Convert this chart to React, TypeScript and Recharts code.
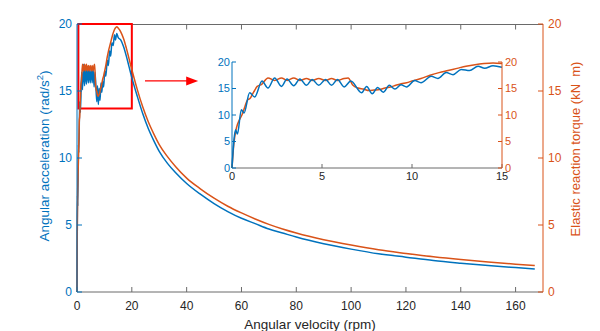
import React from 'react';
import { LineChart, Line, XAxis, YAxis, ReferenceArea, ReferenceLine } from 'recharts';

const BLUE = '#0072BD';
const ORANGE = '#D95319';
const AXIS_GREY = '#6a6a6a';
const TEXT_DARK = '#262626';

// angular acceleration (left axis), rpm vs rad/s^2
const accelRpm = [
  0, 0.11, 0.2, 0.3, 0.52, 0.67, 0.98, 1.26, 1.67, 2.0,
  2.37, 2.75, 3.06, 3.43, 3.77, 4.14, 4.45, 4.82, 5.2, 5.53,
  5.86, 6.23, 6.6, 7.2, 7.48, 7.79, 8.09, 8.4, 8.74, 9.05,
  9.39, 9.7, 10.15, 10.5, 11.07, 11.44, 11.9, 12.28, 12.74, 13.2,
  13.67, 14.04, 14.5, 15, 16, 17, 18, 19, 20, 22,
  24, 26, 28, 30, 33, 36, 40, 45, 50, 55,
  60, 65, 70, 75, 80, 90, 100, 110, 120, 130,
  140, 150, 160, 167,
];
const accelVal = [
  0, 5.3, 7.2, 6.4, 11.0, 10.4, 14.2, 13.4, 16.4, 15.1,
  17.0, 15.4, 16.8, 15.5, 16.8, 15.6, 16.7, 15.6, 16.7, 15.6,
  16.7, 15.3, 16.4, 14.2, 15.4, 14.0, 15.2, 14.3, 15.6, 14.9,
  15.7, 15.3, 16.5, 16.1, 17.3, 16.9, 18.0, 17.6, 18.6, 18.4,
  19.2, 18.8, 19.3, 19.0, 18.8, 18.3, 17.6, 16.8, 16.0, 14.6,
  13.3, 12.2, 11.3, 10.5, 9.6, 8.9, 8.1, 7.3, 6.6, 6.0,
  5.5, 5.1, 4.7, 4.4, 4.1, 3.6, 3.2, 2.85, 2.6, 2.35,
  2.15, 1.97, 1.82, 1.72,
];

// elastic reaction torque (right axis), rpm vs kN m
const torqueRpm = [
  0, 0.1, 0.25, 0.4, 0.55, 0.7, 0.85, 1.0, 1.2, 1.4,
  1.65, 2.0, 2.37, 2.75, 3.06, 3.43, 3.77, 4.14, 4.45, 4.82,
  5.2, 5.53, 5.86, 6.23, 6.45, 6.72, 7.0, 7.3, 7.6, 7.9,
  8.2, 8.5, 8.8, 9.1, 9.4, 9.7, 10, 10.5, 11, 11.5,
  12, 12.5, 13, 13.5, 14, 14.5, 15, 16, 17, 18,
  19, 20, 22, 24, 26, 28, 30, 33, 36, 40,
  45, 50, 55, 60, 65, 70, 75, 80, 90, 100,
  110, 120, 130, 140, 150, 160, 167,
];
const torqueVal = [
  0, 4.5, 7.6, 9.0, 10.0, 11.4, 12.8, 13.1, 14.3, 15.4,
  15.8, 17.0, 16.5, 17.0, 16.5, 17.0, 16.5, 16.9, 16.5, 16.9,
  16.5, 16.9, 16.5, 16.9, 17.0, 15.6, 15.1, 14.9, 14.6, 14.7,
  14.8, 15.1, 15.3, 15.6, 15.9, 16.1, 16.4, 16.9, 17.5, 18.0,
  18.4, 18.8, 19.2, 19.5, 19.7, 19.8, 19.7, 19.4, 18.9, 18.2,
  17.4, 16.6, 15.1, 13.8, 12.7, 11.8, 11.0, 10.1, 9.35, 8.5,
  7.7, 7.0, 6.4, 5.9, 5.45, 5.05, 4.7, 4.4, 3.9, 3.5,
  3.15, 2.88, 2.63, 2.42, 2.24, 2.08, 1.98,
];

const rpmTicks = [0, 20, 40, 60, 80, 100, 120, 140, 160];
const rpmMax = 170;
const yTicks = [0, 5, 10, 15, 20];
const insetRpmTicks = [0, 5, 10, 15];

const accelData = accelRpm.map((rpm, i) => ({ rpm, value: accelVal[i] }));
const torqueData = torqueRpm.map((rpm, i) => ({ rpm, value: torqueVal[i] }));
const insetAccel = accelData.filter((d) => d.rpm <= 15);
const insetTorque = torqueData.filter((d) => d.rpm <= 15);

// main chart frame
const W = 600;
const H = 331;
const AXIS_W = 50;
const MARGIN = { top: 24, right: 7, bottom: 0, left: 27 };
const plotLeft = MARGIN.left + AXIS_W;
const plotRight = W - MARGIN.right - AXIS_W;

const AccelLabel = (props: any) => {
  const vb = props.viewBox || {};
  const cx = vb.x + 18;
  const cy = vb.y + vb.height / 2 - 2;
  return (
    <text
      x={cx}
      y={cy}
      transform={`rotate(-90, ${cx}, ${cy})`}
      textAnchor="middle"
      dominantBaseline="middle"
      fill={BLUE}
      fontSize={13.5}
    >
      Angular acceleration (rad/s
      <tspan dy={-5} fontSize={9.5}>2</tspan>
      <tspan dy={5}>)</tspan>
    </text>
  );
};

const TorqueLabel = (props: any) => {
  const vb = props.viewBox || {};
  const cx = vb.x + 34;
  const cy = vb.y + vb.height / 2 - 9;
  return (
    <text
      x={cx}
      y={cy}
      transform={`rotate(-90, ${cx}, ${cy})`}
      textAnchor="middle"
      dominantBaseline="middle"
      fill={ORANGE}
      fontSize={13}
    >
      {'Elastic reaction torque (kN\u00a0\u00a0m)'}
    </text>
  );
};

const Arrow = (props: any) => {
  const { x1, y1, x2, y2 } = props;
  return (
    <g>
      <line x1={x1} y1={y1} x2={x2 - 10} y2={y2} stroke="#ff0000" strokeWidth={1.2} />
      <polygon points={`${x2},${y2} ${x2 - 12},${y2 - 4.5} ${x2 - 12},${y2 + 4.5}`} fill="#ff0000" />
    </g>
  );
};

// top edge of the box (matlab "box on"), ticks pointing inward; sits under the chart
const TopFrame = () => {
  const y = MARGIN.top + 0.5;
  const sx = (v: number) => plotLeft + (v / rpmMax) * (plotRight - plotLeft);
  return (
    <svg
      width={W}
      height={H}
      style={{ position: 'absolute', left: 0, top: 0, pointerEvents: 'none' }}
    >
      <line x1={plotLeft} y1={y} x2={plotRight} y2={y} stroke={AXIS_GREY} strokeWidth={1} />
      {rpmTicks.slice(1).map((t) => (
        <line key={t} x1={sx(t)} y1={y} x2={sx(t)} y2={y + 5} stroke={AXIS_GREY} strokeWidth={1} />
      ))}
    </svg>
  );
};

export default function App() {
  return (
    <div
      style={{
        position: 'absolute',
        left: 0,
        top: 0,
        width: W,
        height: H,
        background: '#fff',
        fontFamily: '"Liberation Sans", Arial, sans-serif',
      }}
    >
      <TopFrame />

      <div style={{ position: 'absolute', left: 0, top: 0 }}>
        <LineChart width={W} height={H} margin={MARGIN}>
          <XAxis
            xAxisId="b"
            type="number"
            dataKey="rpm"
            domain={[0, rpmMax]}
            ticks={rpmTicks}
            height={39}
            stroke={AXIS_GREY}
            tickSize={-5}
            tickMargin={14}
            tick={{ fill: TEXT_DARK, fontSize: 12 }}
            label={{ value: 'Angular velocity (rpm)', position: 'insideBottom', offset: 2, fill: TEXT_DARK, fontSize: 13.5 }}
          />
          <YAxis
            yAxisId="left"
            domain={[0, 20]}
            ticks={yTicks}
            width={AXIS_W}
            stroke={BLUE}
            tickSize={-5}
            tickMargin={10}
            tick={{ fill: BLUE, fontSize: 12 }}
            label={<AccelLabel />}
          />
          <YAxis
            yAxisId="right"
            orientation="right"
            domain={[0, 20]}
            ticks={yTicks}
            width={AXIS_W}
            stroke={ORANGE}
            tickSize={-5}
            tickMargin={10}
            tick={{ fill: ORANGE, fontSize: 12 }}
            label={<TorqueLabel />}
          />
          <Line
            xAxisId="b"
            yAxisId="left"
            data={accelData}
            dataKey="value"
            type="monotone"
            stroke={BLUE}
            strokeWidth={1.5}
            dot={false}
            isAnimationActive={false}
          />
          <Line
            xAxisId="b"
            yAxisId="right"
            data={torqueData}
            dataKey="value"
            type="monotone"
            stroke={ORANGE}
            strokeWidth={1.5}
            dot={false}
            isAnimationActive={false}
          />
          <ReferenceArea
            xAxisId="b"
            yAxisId="left"
            x1={0.5}
            x2={20}
            y1={13.7}
            y2={20}
            stroke="#ff0000"
            strokeWidth={2}
            fill="none"
            fillOpacity={0}
          />
          <ReferenceLine
            xAxisId="b"
            yAxisId="left"
            segment={[{ x: 24.8, y: 15.75 }, { x: 44.2, y: 15.75 }]}
            shape={Arrow}
          />
        </LineChart>
      </div>

      <div style={{ position: 'absolute', left: 200, top: 50 }}>
        <LineChart width={330} height={140} margin={{ top: 12, right: 3, bottom: 2, left: 7 }}>
          <XAxis
            type="number"
            dataKey="rpm"
            domain={[0, 15]}
            ticks={insetRpmTicks}
            height={20}
            stroke={AXIS_GREY}
            tickSize={-4}
            tickMargin={8}
            tick={{ fill: TEXT_DARK, fontSize: 11 }}
          />
          <YAxis
            yAxisId="l"
            domain={[0, 20]}
            ticks={yTicks}
            width={25}
            stroke={BLUE}
            tickSize={-4}
            tickMargin={6}
            tick={{ fill: BLUE, fontSize: 11 }}
          />
          <YAxis
            yAxisId="r"
            orientation="right"
            domain={[0, 20]}
            ticks={yTicks}
            width={25}
            stroke={ORANGE}
            tickSize={-4}
            tickMargin={7}
            tick={{ fill: ORANGE, fontSize: 11 }}
          />
          <Line
            yAxisId="r"
            data={insetTorque}
            dataKey="value"
            type="monotone"
            stroke={ORANGE}
            strokeWidth={1.5}
            dot={false}
            isAnimationActive={false}
          />
          <Line
            yAxisId="l"
            data={insetAccel}
            dataKey="value"
            type="monotone"
            stroke={BLUE}
            strokeWidth={1.5}
            dot={false}
            isAnimationActive={false}
          />
        </LineChart>
      </div>
    </div>
  );
}
